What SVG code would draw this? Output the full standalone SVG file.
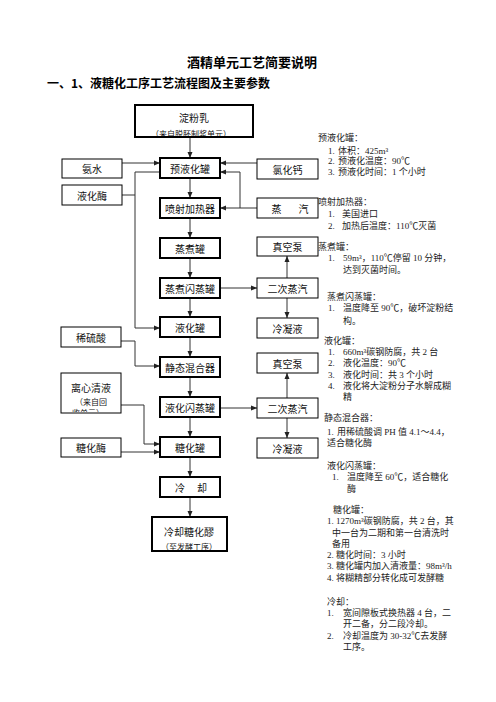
<svg xmlns="http://www.w3.org/2000/svg" width="496" height="702" viewBox="0 0 496 702">
<style>
.bg{fill:#fff}
.main{fill:#fff;stroke:#000;stroke-width:2}
.side{fill:#fff;stroke:#000;stroke-width:1}
.bt{font-family:"Noto Sans CJK SC","Liberation Sans",sans-serif;font-size:10px;fill:#111;text-anchor:middle;dominant-baseline:central}
.bs{font-family:"Noto Sans CJK SC","Liberation Sans",sans-serif;font-size:8px;fill:#111;text-anchor:middle;dominant-baseline:central}
.ln{fill:none;stroke:#333;stroke-width:1}
.ar{fill:none;stroke:#333;stroke-width:1;marker-end:url(#ah)}
.nt{font-family:"Liberation Serif","Noto Sans CJK SC",serif;font-size:9px;fill:#222;dominant-baseline:central}
.h1{font-family:"Noto Sans CJK SC",sans-serif;font-size:13px;font-weight:bold;fill:#000;text-anchor:middle}
.h2{font-family:"Noto Sans CJK SC",sans-serif;font-size:12px;font-weight:bold;fill:#000}
</style>
<defs>
<marker id="ah" markerWidth="6" markerHeight="6" refX="6" refY="3" orient="auto" markerUnits="userSpaceOnUse">
<path d="M0,0.5 L6,3 L0,5.5 z" fill="#222"/>
</marker>
<clipPath id="c1"><rect x="136" y="106" width="116" height="30"/></clipPath>
<clipPath id="c2"><rect x="153" y="518" width="73" height="32"/></clipPath>
<clipPath id="c3"><rect x="62" y="374" width="58" height="38"/></clipPath>
</defs>
<rect class="bg" x="0" y="0" width="496" height="702"/>
<text class="h1" x="252" y="67">酒精单元工艺简要说明</text>
<text class="h2" x="47" y="88">一、1、液糖化工序工艺流程图及主要参数</text>

<g id="connectors">
<path class="ar" d="M190,138 V158"/>
<path class="ar" d="M190,178 V198"/>
<path class="ar" d="M190,218 V238"/>
<path class="ar" d="M190,258 V278"/>
<path class="ar" d="M190,298 V317"/>
<path class="ar" d="M190,337 V357"/>
<path class="ar" d="M190,377 V397"/>
<path class="ar" d="M190,417 V437"/>
<path class="ar" d="M190,457 V477"/>
<path class="ar" d="M190,497 V517"/>
<path class="ar" d="M122,163 H160"/>
<path class="ln" d="M122,195 H135"/>
<path class="ar" d="M160,172 H135 V328 H160"/>
<path class="ar" d="M257,163 H220"/>
<path class="ar" d="M257,208 H220"/>
<path class="ar" d="M240,208 V172 H220"/>
<path class="ar" d="M220,288 H257"/>
<path class="ar" d="M287,278 V256"/>
<path class="ar" d="M287,298 V318"/>
<path class="ar" d="M121,341 H135 V366 H160"/>
<path class="ar" d="M220,408 H257"/>
<path class="ar" d="M287,398 V373"/>
<path class="ar" d="M287,418 V438"/>
<path class="ar" d="M121,405 H144 V444 H160"/>
<path class="ar" d="M121,452 H160"/>
</g>

<g id="n-dianfenru"><rect class="main" x="135" y="105" width="118" height="32"/><text class="bt" x="194" y="117">淀粉乳</text><text class="bs" x="191" y="133" clip-path="url(#c1)">（来自脱胚制浆单元）</text></g>
<g id="n-yuyehuaguan"><rect class="main" x="160" y="158" width="60" height="20"/><text class="bt" x="190" y="168">预液化罐</text></g>
<g id="n-penshe"><rect class="main" x="160" y="198" width="60" height="20"/><text class="bt" x="190" y="208">喷射加热器</text></g>
<g id="n-zhengzhu"><rect class="main" x="160" y="238" width="60" height="20"/><text class="bt" x="190" y="248">蒸煮罐</text></g>
<g id="n-zhengzhushanzheng"><rect class="main" x="160" y="278" width="60" height="20"/><text class="bt" x="190" y="288">蒸煮闪蒸罐</text></g>
<g id="n-yehuaguan"><rect class="main" x="160" y="317" width="60" height="20"/><text class="bt" x="190" y="327">液化罐</text></g>
<g id="n-jingtai"><rect class="main" x="160" y="357" width="60" height="20"/><text class="bt" x="190" y="367">静态混合器</text></g>
<g id="n-yehuashanzheng"><rect class="main" x="160" y="397" width="60" height="20"/><text class="bt" x="190" y="407">液化闪蒸罐</text></g>
<g id="n-tanghuaguan"><rect class="main" x="160" y="437" width="60" height="20"/><text class="bt" x="190" y="447">糖化罐</text></g>
<g id="n-lengque"><rect class="main" x="160" y="477" width="60" height="20"/><text class="bt" y="487"><tspan x="180">冷</tspan><tspan x="202">却</tspan></text></g>
<g id="n-lengquetanghualao"><rect class="main" x="152" y="517" width="75" height="34"/><text class="bt" x="189" y="531">冷却糖化醪</text><text class="bs" x="189" y="546" clip-path="url(#c2)">（至发酵工序）</text></g>

<g id="n-anshui"><rect class="side" x="62" y="159" width="60" height="19"/><text class="bt" x="92" y="168.5">氨水</text></g>
<g id="n-yehuamei"><rect class="side" x="62" y="185" width="60" height="20"/><text class="bt" x="92" y="195">液化酶</text></g>
<g id="n-xiliusuan"><rect class="side" x="61" y="327" width="60" height="20"/><text class="bt" x="91" y="337">稀硫酸</text></g>
<g id="n-lixinqingye"><rect class="side" x="61" y="373" width="60" height="40"/><text class="bt" x="91" y="387">离心清液</text><text class="bs" x="91" y="401" clip-path="url(#c3)">（来自回</text><text class="bs" x="88" y="412" clip-path="url(#c3)">收单元）</text></g>
<g id="n-tanghuamei"><rect class="side" x="61" y="438" width="60" height="19"/><text class="bt" x="91" y="447.5">糖化酶</text></g>

<g id="n-lvhuagai"><rect class="side" x="257" y="159" width="61" height="20"/><text class="bt" x="287.5" y="169">氯化钙</text></g>
<g id="n-zhengqi"><rect class="side" x="257" y="198" width="61" height="20"/><text class="bt" y="208"><tspan x="276.5">蒸</tspan><tspan x="303.5">汽</tspan></text></g>
<g id="n-zhenkongbeng1"><rect class="side" x="257" y="237" width="61" height="19"/><text class="bt" x="287.5" y="246.5">真空泵</text></g>
<g id="n-ercizhengqi1"><rect class="side" x="257" y="278" width="61" height="20"/><text class="bt" x="287.5" y="288">二次蒸汽</text></g>
<g id="n-lengningye1"><rect class="side" x="257" y="318" width="61" height="20"/><text class="bt" x="287.5" y="328">冷凝液</text></g>
<g id="n-zhenkongbeng2"><rect class="side" x="257" y="353" width="61" height="20"/><text class="bt" x="287.5" y="363">真空泵</text></g>
<g id="n-ercizhengqi2"><rect class="side" x="257" y="398" width="61" height="20"/><text class="bt" x="287.5" y="408">二次蒸汽</text></g>
<g id="n-lengningye2"><rect class="side" x="257" y="438" width="61" height="20"/><text class="bt" x="287.5" y="448">冷凝液</text></g>

<g id="notes">
<text class="nt" x="318" y="138">预液化罐：</text>
<text class="nt" x="328" y="151">1.</text><text class="nt" x="338" y="151">体积：425m³</text>
<text class="nt" x="328" y="161">2.</text><text class="nt" x="338" y="161">预液化温度：90℃</text>
<text class="nt" x="328" y="172">3.</text><text class="nt" x="338" y="172">预液化时间：1 个小时</text>
<text class="nt" x="318" y="202">喷射加热器：</text>
<text class="nt" x="328" y="214">1.</text><text class="nt" x="342" y="214">美国进口</text>
<text class="nt" x="328" y="226">2.</text><text class="nt" x="342" y="226">加热后温度：110℃灭菌</text>
<text class="nt" x="318" y="247">蒸煮罐：</text>
<text class="nt" x="328" y="258">1.</text><text class="nt" x="343" y="258">59m³，110℃停留 10 分钟，</text>
<text class="nt" x="343" y="270">达到灭菌时间。</text>
<text class="nt" x="327" y="297">蒸煮闪蒸罐：</text>
<text class="nt" x="328" y="308">1.</text><text class="nt" x="343" y="308">温度降至 90℃，破坏淀粉结</text>
<text class="nt" x="343" y="321">构。</text>
<text class="nt" x="324" y="341">液化罐：</text>
<text class="nt" x="328" y="352">1.</text><text class="nt" x="343" y="352">660m³碳钢防腐，共 2 台</text>
<text class="nt" x="328" y="363">2.</text><text class="nt" x="343" y="363">液化温度：90℃</text>
<text class="nt" x="328" y="375">3.</text><text class="nt" x="343" y="375">液化时间：共 3 个小时</text>
<text class="nt" x="328" y="386">4.</text><text class="nt" x="343" y="386">液化将大淀粉分子水解成糊</text>
<text class="nt" x="343" y="397">精</text>
<text class="nt" x="324" y="418">静态混合器：</text>
<text class="nt" x="327" y="432">1.</text><text class="nt" x="337" y="432">用稀硫酸调 PH 值 4.1～4.4，</text>
<text class="nt" x="327" y="443">适合糖化酶</text>
<text class="nt" x="327" y="466">液化闪蒸罐：</text>
<text class="nt" x="332" y="477">1.</text><text class="nt" x="347" y="477">温度降至 60℃，适合糖化</text>
<text class="nt" x="347" y="489">酶</text>
<text class="nt" x="333" y="510">糖化罐：</text>
<text class="nt" x="327" y="521">1.</text><text class="nt" x="336" y="521">1270m³碳钢防腐，共 2 台，其</text>
<text class="nt" x="332" y="533">中一台为二期和第一台清洗时</text>
<text class="nt" x="332" y="544">备用</text>
<text class="nt" x="327" y="555">2.</text><text class="nt" x="336" y="555">糖化时间：3 小时</text>
<text class="nt" x="327" y="566">3.</text><text class="nt" x="336" y="566">糖化罐内加入清液量：98m³/h</text>
<text class="nt" x="327" y="578">4.</text><text class="nt" x="336" y="578">将糊精部分转化成可发酵糖</text>
<text class="nt" x="327" y="602">冷却：</text>
<text class="nt" x="327" y="613">1.</text><text class="nt" x="343" y="613">宽间隙板式换热器 4 台，二</text>
<text class="nt" x="343" y="624">开二备，分二段冷却。</text>
<text class="nt" x="327" y="636">2.</text><text class="nt" x="343" y="636">冷却温度为 30-32℃去发酵</text>
<text class="nt" x="343" y="647">工序。</text>
</g>
</svg>
